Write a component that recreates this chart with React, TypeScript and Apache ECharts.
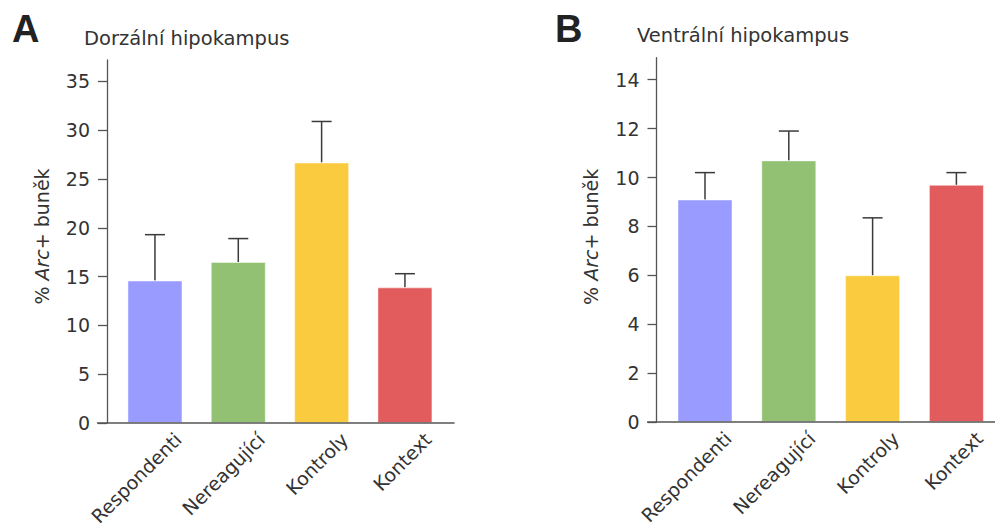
import React, { useEffect, useRef } from "react";
import * as echarts from "echarts";

const categories = ["Respondenti", "Nereagující", "Kontroly", "Kontext"];
const dorsalMeans = [14.6, 16.5, 26.7, 13.9];
const dorsalErrTop = [19.3, 18.9, 30.9, 15.3];
const ventralMeans = [9.1, 10.7, 6.0, 9.7];
const ventralErrTop = [10.2, 11.9, 8.35, 10.2];
const barColors = ["#9a9bff", "#92c174", "#fbcb3f", "#e35c5d"];
const dorsalTicks = [0, 5, 10, 15, 20, 25, 30, 35];
const ventralTicks = [0, 2, 4, 6, 8, 10, 12, 14];
const panelTitles = ["Dorzální hipokampus", "Ventrální hipokampus"];
const panelLetters = ["A", "B"];
const yName = "{n|% }{i|Arc}{n|+ buněk}";

const FONT = "DejaVu Sans";
const AXIS = "#555555";
const TEXT = "#333333";

export default function App() {
  const ref = useRef<HTMLDivElement>(null);
  useEffect(() => {
    if (!ref.current) return;
    const chart = echarts.init(ref.current, null, { renderer: "svg" });

    const gA = { left: 113.3, top: 60, width: 333.3, height: 363 };
    const gB = { left: 663.1, top: 57.7, width: 335.2, height: 364.3 };
    const labDx = 23;

    const richStyle = {
      n: { fontFamily: FONT, fontSize: 19, color: TEXT },
      i: { fontFamily: FONT, fontSize: 19, color: TEXT, fontStyle: "italic" },
    };

    const valueAxis = (gridIndex: number, max: number, interval: number, ticks: number[], offset: number, namePad: number) => ({
      type: "value",
      gridIndex,
      min: 0,
      max,
      interval,
      offset,
      name: yName,
      nameLocation: "middle",
      nameRotate: 90,
      nameGap: 56,
      nameTextStyle: { rich: richStyle, padding: [0, 0, 0, namePad] },
      splitLine: { show: false },
      axisLine: { show: true, lineStyle: { color: AXIS, width: 1.3 } },
      axisTick: { show: true, length: 9, lineStyle: { color: AXIS, width: 1.3 }, customValues: ticks },
      axisLabel: { fontFamily: FONT, fontSize: 19, color: TEXT, margin: 17, customValues: ticks },
    });

    const catAxis = (gridIndex: number, showLabels: boolean) => ({
      type: "category",
      gridIndex,
      data: categories,
      axisLine: { show: false },
      axisTick: { show: false },
      axisLabel: showLabels
        ? { show: true, rotate: 45, fontFamily: FONT, fontSize: 19, color: TEXT, margin: 13, interval: 0 }
        : { show: false },
    });

    const hiddenY = (gridIndex: number, max: number) => ({
      type: "value",
      gridIndex,
      min: 0,
      max,
      show: false,
    });

    const barSeries = (xi: number, yi: number, values: number[]) => ({
      type: "bar",
      xAxisIndex: xi,
      yAxisIndex: yi,
      barWidth: 55,
      data: values.map((v, k) => ({
        value: v,
        itemStyle: { color: barColors[k], borderColor: "rgba(255,255,255,0.45)", borderWidth: 1 },
      })),
    });

    const errSeries = (xi: number, yi: number, values: number[], tops: number[]) => ({
      type: "custom",
      xAxisIndex: xi,
      yAxisIndex: yi,
      clip: false,
      z: 1,
      data: values.map((v, k) => [k, v, tops[k]]),
      encode: { x: 0, y: [1, 2] },
      renderItem: (params: any, api: any) => {
        const x = api.value(0);
        const p0 = api.coord([x, api.value(1)]);
        const p1 = api.coord([x, api.value(2)]);
        const style = { stroke: "#3a3a3a", lineWidth: 1.5, fill: "none" };
        return {
          type: "group",
          children: [
            { type: "line", shape: { x1: p0[0], y1: p0[1], x2: p1[0], y2: p1[1] }, style },
            { type: "line", shape: { x1: p1[0] - 10, y1: p1[1], x2: p1[0] + 10, y2: p1[1] }, style },
          ],
        };
      },
    });

    const yA0 = gA.top + gA.height;
    const yB0 = gB.top + gB.height;
    const gridBase = { containLabel: false, outerBoundsMode: "none" };

    chart.setOption({
      animation: false,
      grid: [
        { ...gA, ...gridBase },
        { ...gA, left: gA.left + labDx, ...gridBase },
        { ...gB, ...gridBase },
        { ...gB, left: gB.left + labDx, ...gridBase },
      ],
      xAxis: [catAxis(0, false), catAxis(1, true), catAxis(2, false), catAxis(3, true)],
      yAxis: [
        valueAxis(0, 37.2, 5, dorsalTicks, 6.3, 10),
        hiddenY(1, 37.2),
        valueAxis(2, 14.9, 2, ventralTicks, 6.6, 6),
        hiddenY(3, 14.9),
      ],
      series: [
        barSeries(0, 0, dorsalMeans),
        errSeries(0, 0, dorsalMeans, dorsalErrTop),
        barSeries(2, 2, ventralMeans),
        errSeries(2, 2, ventralMeans, ventralErrTop),
      ],
      graphic: [
        {
          type: "line",
          shape: { x1: gA.left - 16.3, y1: yA0, x2: gA.left + gA.width + 8, y2: yA0 },
          style: { stroke: AXIS, lineWidth: 1.3 },
          z: 5,
        },
        {
          type: "line",
          shape: { x1: gB.left - 16, y1: yB0, x2: 995, y2: yB0 },
          style: { stroke: AXIS, lineWidth: 1.3 },
          z: 5,
        },
        {
          type: "text",
          x: 12,
          y: 29,
          style: { text: panelLetters[0], font: "bold 38px 'Liberation Sans'", fill: "#222", verticalAlign: "middle" },
        },
        {
          type: "text",
          x: 555,
          y: 29,
          style: { text: panelLetters[1], font: "bold 38px 'Liberation Sans'", fill: "#222", verticalAlign: "middle" },
        },
        {
          type: "text",
          x: 84,
          y: 38,
          style: { text: panelTitles[0], font: `19.5px '${FONT}'`, fill: TEXT, verticalAlign: "middle" },
        },
        {
          type: "text",
          x: 637,
          y: 35.5,
          style: { text: panelTitles[1], font: `19.5px '${FONT}'`, fill: TEXT, verticalAlign: "middle" },
        },
      ],
    });

    return () => chart.dispose();
  }, []);

  return (
    <div
      ref={ref}
      style={{ position: "absolute", left: 0, top: 0, width: 995, height: 523, background: "#fff" }}
    />
  );
}
